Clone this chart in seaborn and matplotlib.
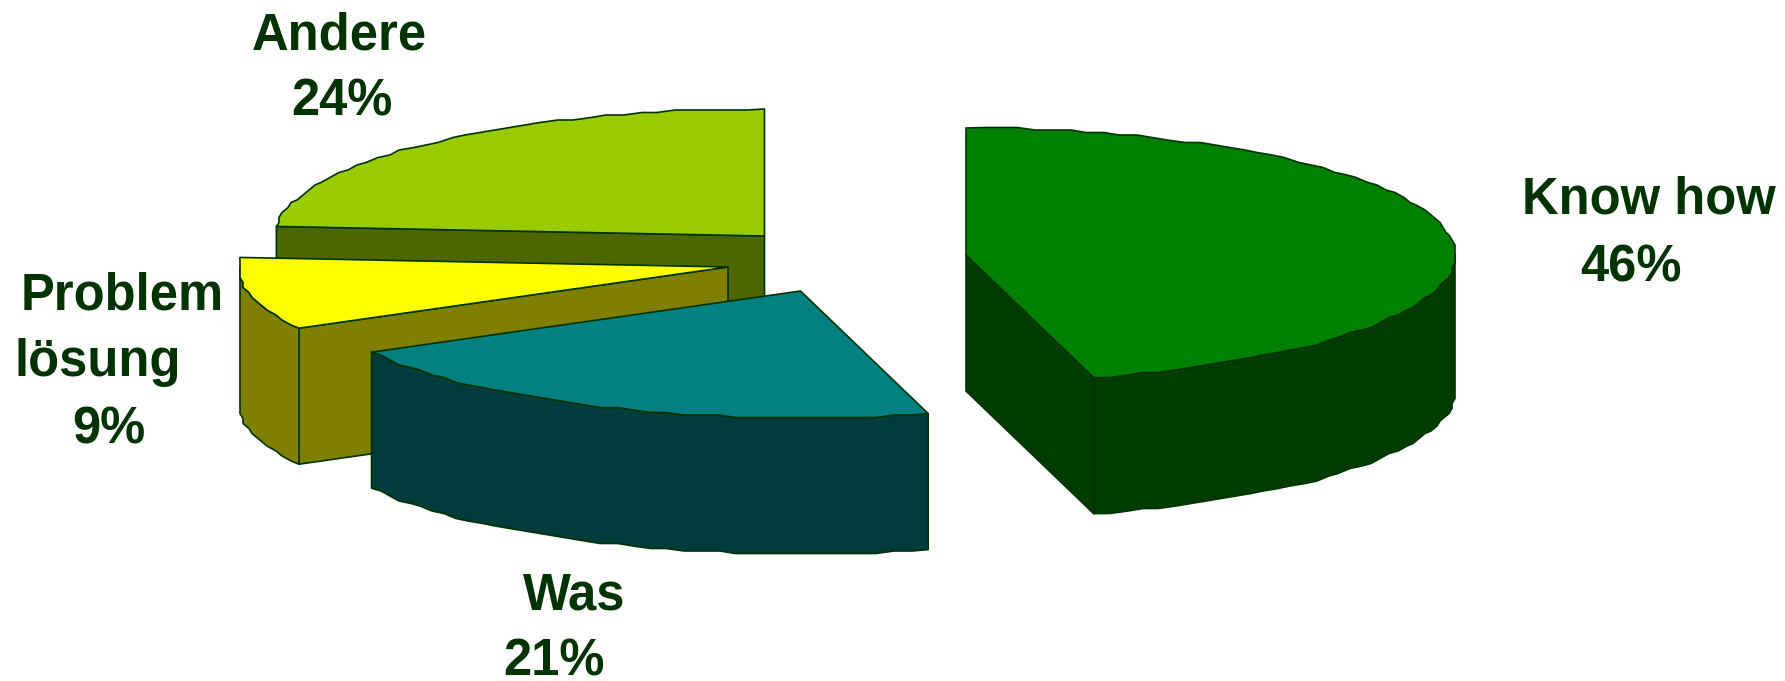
import numpy as np
import matplotlib
matplotlib.use('Agg')
import matplotlib.pyplot as plt
import seaborn as sns

# Data (labels show the rounded values)
categories = ['Know how', 'Was', 'Problem\nlösung', 'Andere']
shares = [45.8, 21.2, 9.2, 23.8]
top_colors = ['#008000', '#008080', '#ffff00', '#99cc00']
side_colors = ['#003c00', '#003c3c', '#808000', '#4d6600']

# Layout of the exploded pie, in output pixels
centers = [(966, 255), (800.5, 291), (728, 267), (764.5, 236)]
rx, ry, depth = 489.5, 127, 136
edge = '#003300'
text_color = '#003300'

sns.set_theme(style='white')
plt.rcParams['font.family'] = ['Liberation Sans', 'DejaVu Sans']

fig = plt.figure(figsize=(17.85, 6.81), dpi=100)
ax = fig.add_axes([0, 0, 1, 1])
ax.set_xlim(0, 1785)
ax.set_ylim(681, 0)
ax.axis('off')


def arc(center, start, stop):
    # clockwise from 12 o'clock, rounded a little so the rim looks stepped
    n = max(int((stop - start) / 2.0), 2)
    t = np.radians(np.linspace(start, stop, n))
    x = center[0] + rx * np.sin(t)
    y = center[1] - ry * np.cos(t)
    x[1:-1] = np.round(x[1:-1] / 3) * 3
    y[1:-1] = np.round(y[1:-1] / 2.5) * 2.5
    return x, y


def box(xs, ys, color, z):
    # extrude a top edge downwards into a side face
    px = np.r_[xs, xs[::-1]]
    py = np.r_[ys, ys[::-1] + depth]
    ax.fill(px, py, facecolor=color, edgecolor=edge, lw=1.2, joinstyle='round', zorder=z)


bounds = np.r_[0, np.cumsum(shares)] * 3.6

# back to front: Andere, Problemlösung, Was, Know how
for i in [3, 2, 1, 0]:
    start, stop = bounds[i], bounds[i + 1]
    cx, cy = centers[i]
    x, y = arc(centers[i], start, stop)
    z = 4 - i

    # cut face that looks towards the viewer
    if i == 0:
        box(np.array([cx, x[-1]]), np.array([cy, y[-1]]), side_colors[i], z)
    if i == 2:
        box(np.array([x[0], cx]), np.array([y[0], cy]), side_colors[i], z)
    if i == 3:
        box(np.array([x[0], cx]), np.array([y[0], cy]), side_colors[i], z)

    # outer wall, front half of the rim only
    ang = np.degrees(np.arctan2(x - cx, (cy - y) * rx / ry)) % 360
    front = (ang >= 88) & (ang <= 272)
    if i != 3 and front.sum() > 1:
        box(x[front], y[front], side_colors[i], z)

    ax.fill(np.r_[cx, x], np.r_[cy, y], facecolor=top_colors[i], edgecolor=edge,
            lw=1.2, joinstyle='round', zorder=z)

# Labels: name lines, then the rounded share
pct = [f'{s:.0f}%' for s in shares]
label_style = dict(fontsize=36.5, fontweight='bold', color=text_color, va='baseline', ha='left', zorder=10)
ax.text(1522, 214, categories[0], **label_style)
ax.text(1580, 281, pct[0], **label_style)
ax.text(523, 609, categories[1], **label_style)
ax.text(503, 676, pct[1], **label_style)
problem, loesung = categories[2].split('\n')
ax.text(21, 310, problem, **label_style)
ax.text(15, 376, loesung, **label_style)
ax.text(72, 443, pct[2], **label_style)
ax.text(252, 50, categories[3], **label_style)
ax.text(291, 116, pct[3], **label_style)

fig.savefig('out.png', dpi=100, facecolor='white')
